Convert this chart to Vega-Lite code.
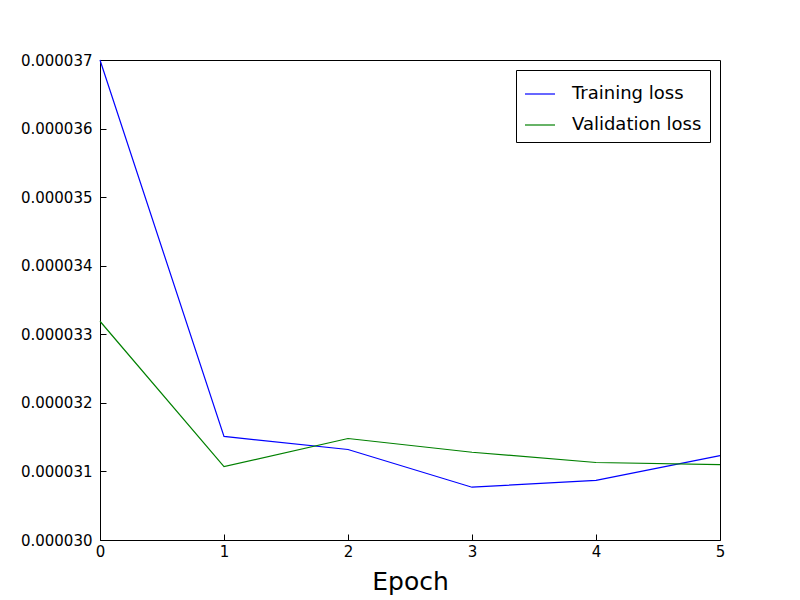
{
  "$schema": "https://vega.github.io/schema/vega-lite/v6.json",
  "width": 620,
  "height": 480,
  "autosize": "none",
  "padding": {"left": 100, "top": 60, "right": 80, "bottom": 60},
  "background": "white",
  "data": {"values": [
    {"epoch": 0, "loss": 0.0000370, "series": "Training loss"},
    {"epoch": 1, "loss": 0.00003151, "series": "Training loss"},
    {"epoch": 2, "loss": 0.00003132, "series": "Training loss"},
    {"epoch": 3, "loss": 0.00003077, "series": "Training loss"},
    {"epoch": 4, "loss": 0.00003087, "series": "Training loss"},
    {"epoch": 5, "loss": 0.00003123, "series": "Training loss"},
    {"epoch": 0, "loss": 0.00003319, "series": "Validation loss"},
    {"epoch": 1, "loss": 0.00003107, "series": "Validation loss"},
    {"epoch": 2, "loss": 0.00003148, "series": "Validation loss"},
    {"epoch": 3, "loss": 0.00003128, "series": "Validation loss"},
    {"epoch": 4, "loss": 0.00003113, "series": "Validation loss"},
    {"epoch": 5, "loss": 0.00003110, "series": "Validation loss"}
  ]},
  "mark": {"type": "line", "strokeWidth": 1.2},
  "encoding": {
    "x": {"field": "epoch", "type": "quantitative", "scale": {"domain": [0, 5], "nice": false},
      "axis": {"title": "Epoch", "titleFontSize": 25, "titleFontWeight": "normal", "titlePadding": 10, "values": [0,1,2,3,4,5], "format": "d", "labelOverlap": false, "labelFlush": false, "grid": false, "tickSize": -6, "labelPadding": 10, "labelFontSize": 15, "domain": false}},
    "y": {"field": "loss", "type": "quantitative", "scale": {"domain": [0.00003, 0.000037], "nice": false, "zero": false},
      "axis": {"title": null, "values": [0.00003, 0.000031, 0.000032, 0.000033, 0.000034, 0.000035, 0.000036, 0.000037], "format": ".6f", "labelOverlap": false, "labelFlush": false, "grid": false, "tickSize": -6, "labelPadding": 14, "labelFontSize": 15, "domain": false}},
    "color": {"field": "series", "type": "nominal", "scale": {"domain": ["Training loss", "Validation loss"], "range": ["#0000ff", "#008000"]},
      "legend": {"title": null, "orient": "top-right", "symbolType": "stroke", "symbolSize": 900, "symbolStrokeWidth": 1.2, "labelFontSize": 18, "strokeColor": "black", "padding": 8, "fillColor": "white", "offset": 10, "rowPadding": 6, "labelOffset": 16, "cornerRadius": 0}}
  },
  "config": {
    "font": "DejaVu Sans",
    "view": {"stroke": "black", "strokeWidth": 1},
    "axis": {"labelColor": "black", "tickColor": "black", "titleColor": "black", "labelFont": "DejaVu Sans", "titleFont": "DejaVu Sans"},
    "legend": {"labelColor": "black", "labelFont": "DejaVu Sans"}
  }
}
